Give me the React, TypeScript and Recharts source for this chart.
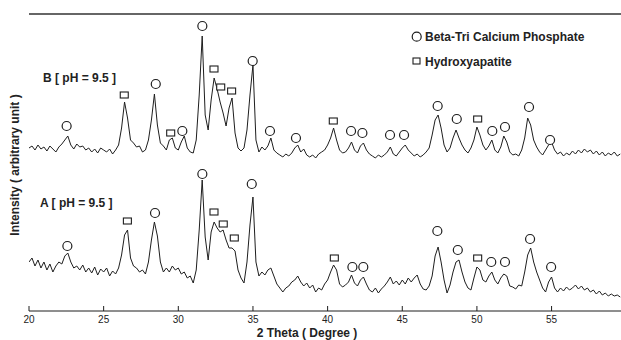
import React from "react";
import { ComposedChart, Line, Scatter, XAxis, YAxis, ReferenceLine } from "recharts";

// 2-theta grid (degrees)
const twoTheta = [
  20.0, 20.2, 20.4, 20.6, 20.8, 21.0, 21.2, 21.4, 21.6, 21.8,
  22.0, 22.2, 22.4, 22.6, 22.8, 23.0, 23.2, 23.4, 23.6, 23.8,
  24.0, 24.2, 24.4, 24.6, 24.8, 25.0, 25.2, 25.4, 25.6, 25.8,
  26.0, 26.2, 26.4, 26.6, 26.8, 27.0, 27.2, 27.4, 27.6, 27.8,
  28.0, 28.2, 28.4, 28.6, 28.8, 29.0, 29.2, 29.4, 29.6, 29.8,
  30.0, 30.2, 30.4, 30.6, 30.8, 31.0, 31.2, 31.4, 31.6, 31.8,
  32.0, 32.2, 32.4, 32.6, 32.8, 33.0, 33.2, 33.4, 33.6, 33.8,
  34.0, 34.2, 34.4, 34.6, 34.8, 35.0, 35.2, 35.4, 35.6, 35.8,
  36.0, 36.2, 36.4, 36.6, 36.8, 37.0, 37.2, 37.4, 37.6, 37.8,
  38.0, 38.2, 38.4, 38.6, 38.8, 39.0, 39.2, 39.4, 39.6, 39.8,
  40.0, 40.2, 40.4, 40.6, 40.8, 41.0, 41.2, 41.4, 41.6, 41.8,
  42.0, 42.2, 42.4, 42.6, 42.8, 43.0, 43.2, 43.4, 43.6, 43.8,
  44.0, 44.2, 44.4, 44.6, 44.8, 45.0, 45.2, 45.4, 45.6, 45.8,
  46.0, 46.2, 46.4, 46.6, 46.8, 47.0, 47.2, 47.4, 47.6, 47.8,
  48.0, 48.2, 48.4, 48.6, 48.8, 49.0, 49.2, 49.4, 49.6, 49.8,
  50.0, 50.2, 50.4, 50.6, 50.8, 51.0, 51.2, 51.4, 51.6, 51.8,
  52.0, 52.2, 52.4, 52.6, 52.8, 53.0, 53.2, 53.4, 53.6, 53.8,
  54.0, 54.2, 54.4, 54.6, 54.8, 55.0, 55.2, 55.4, 55.6, 55.8,
  56.0, 56.2, 56.4, 56.6, 56.8, 57.0, 57.2, 57.4, 57.6, 57.8,
  58.0, 58.2, 58.4, 58.6, 58.8, 59.0, 59.2, 59.4, 59.6,
];

// Sample B [pH = 9.5] intensity (arbitrary units)
const intensityB = [
  163, 165, 161, 166, 162, 164, 160, 165, 162, 159,
  164, 167, 171, 175, 166, 162, 167, 164, 165, 161,
  163, 159, 162, 158, 163, 161, 159, 162, 157, 161,
  166, 183, 209, 193, 171, 168, 164, 165, 159, 161,
  171, 191, 217, 186, 168, 165, 161, 171, 173, 163,
  161, 169, 175, 163, 159, 158, 171, 216, 275, 196,
  181, 211, 233, 222, 209, 198, 185, 203, 213, 178,
  163, 160, 163, 181, 216, 246, 171, 159, 164, 161,
  165, 173, 161, 158, 156, 154, 157, 155, 158, 163,
  166, 159, 162, 156, 154, 156, 153, 157, 159, 161,
  166, 173, 183, 171, 161, 158, 159, 163, 169, 161,
  158, 165, 168, 161, 157, 155, 153, 156, 154, 156,
  159, 164, 157, 155, 159, 163, 166, 161, 158, 155,
  157, 154, 156, 159, 163, 176, 191, 196, 183, 166,
  159, 163, 173, 181, 173, 166, 161, 158, 163, 171,
  184, 176, 166, 161, 165, 171, 161, 158, 164, 175,
  169, 159, 156, 157, 155, 161, 173, 193, 186, 171,
  164, 159, 156, 161, 166, 169, 161, 157, 159, 155,
  158, 156, 160, 157, 161, 158, 162, 159, 161, 157,
  160, 156, 159, 155, 158, 156, 159, 155, 157,
];

// Sample A [pH = 9.5] intensity (arbitrary units)
const intensityA = [
  49, 53, 45, 51, 43, 49, 41, 47, 39, 45,
  49, 47, 55, 58, 49, 43, 45, 41, 46, 39,
  43, 38, 44, 36, 42, 39, 43, 35, 40, 37,
  43, 56, 76, 81, 53, 45, 43, 39, 41, 37,
  49, 71, 89, 75, 49, 39, 43, 39, 45, 41,
  43, 37, 39, 33, 35, 28, 41, 81, 131, 74,
  51, 79, 89, 83, 79, 81, 71, 63, 63, 60,
  41, 33, 28, 49, 86, 114, 49, 35, 39, 36,
  41, 43, 35, 27, 23, 19, 23, 25, 29, 31,
  35, 29, 25, 28, 23, 26, 19, 23, 21, 27,
  31, 39, 46, 41, 27, 24, 26, 29, 36, 28,
  25, 31, 34, 27, 21, 19, 23, 18, 22, 25,
  29, 34, 27, 30, 26, 31, 27, 33, 29, 33,
  36, 27, 22, 21, 25, 35, 55, 64, 49, 31,
  18, 26, 39, 49, 51, 39, 29, 23, 21, 33,
  44, 41, 31, 29, 35, 39, 31, 27, 33, 37,
  35, 25, 24, 22, 26, 25, 39, 56, 63, 49,
  39, 31, 23, 19, 29, 34, 23, 19, 23, 20,
  24, 21, 23, 26, 22, 25, 21, 23, 19, 21,
  17, 20, 16, 18, 15, 17, 15, 16, 14,
];

// Peak markers: Beta-TCP (circles) and Hydroxyapatite (squares)
const tcpThetaB = [22.52, 28.49, 30.27, 31.61, 34.98, 36.14, 37.88, 41.57, 42.33, 44.18, 45.12, 47.37, 48.65, 51.03, 51.88, 53.49, 54.9];
const tcpMarkB = [185, 227, 180, 285, 250, 180, 173, 180, 178, 176, 176, 205, 192, 180, 184, 204, 171];
const hapThetaB = [26.38, 29.49, 32.39, 32.84, 33.57, 40.38, 50.05];
const hapMarkB = [216, 178, 242, 224, 220, 190, 192];
const tcpThetaA = [22.57, 28.44, 31.61, 34.92, 41.66, 42.39, 47.35, 48.72, 50.96, 51.88, 53.56, 54.97];
const tcpMarkA = [65, 98, 137, 127, 44, 44, 80, 61, 49, 49, 72, 44];
const hapThetaA = [26.59, 32.39, 33.01, 33.75, 40.45, 50.05];
const hapMarkA = [90, 99, 87, 73, 53, 53];

const xTicks = [20, 25, 30, 35, 40, 45, 50, 55];

const zip = (xs: number[], ys: number[]) => xs.map((t, i) => ({ t, I: ys[i] }));
const dataB = zip(twoTheta, intensityB);
const dataA = zip(twoTheta, intensityA);
const tcpB = zip(tcpThetaB, tcpMarkB);
const hapB = zip(hapThetaB, hapMarkB);
const tcpA = zip(tcpThetaA, tcpMarkA);
const hapA = zip(hapThetaA, hapMarkA);

const FONT = "'Liberation Sans', Arial, sans-serif";
const INK = "#1e1e1e";

const CircleShape = (p: any) => (
  <circle cx={p.cx} cy={p.cy} r={4.5} fill="#fff" stroke={INK} strokeWidth={1.2} />
);
const SquareShape = (p: any) => (
  <rect x={p.cx - 4} y={p.cy - 3} width={8} height={6} fill="#fff" stroke={INK} strokeWidth={1.1} />
);

const Tick = (p: any) => {
  const { x, y, payload } = p;
  return (
    <g>
      <line x1={x} x2={x} y1={y - 5} y2={y - 10} stroke={INK} strokeWidth={1} />
      <text x={x} y={y} dy={7} textAnchor="middle" fontSize={10} fontFamily={FONT} fill="#222">
        {payload.value}
      </text>
    </g>
  );
};

export default function App() {
  return (
    <div style={{ position: "absolute", left: 0, top: 0, width: 621, height: 340, background: "#fff" }}>
      <ComposedChart width={621} height={340} margin={{ top: 14, right: 0, bottom: 0, left: 29 }}>
        <XAxis
          dataKey="t"
          type="number"
          domain={[20, 59.65]}
          allowDataOverflow
          ticks={xTicks}
          tick={<Tick />}
          tickSize={0}
          tickMargin={5}
          height={29}
          axisLine={{ stroke: INK, strokeWidth: 1 }}
          tickLine={false}
        />
        <YAxis
          dataKey="I"
          type="number"
          domain={[0, 297]}
          allowDataOverflow
          width={0}
          tick={false}
          tickLine={false}
          axisLine={{ stroke: "#333", strokeWidth: 1 }}
        />
        <ReferenceLine y={297} stroke="#333" strokeWidth={1.4} />
        <Line data={dataB} dataKey="I" type="linear" stroke={INK} strokeWidth={1} dot={false} isAnimationActive={false} />
        <Line data={dataA} dataKey="I" type="linear" stroke={INK} strokeWidth={1} dot={false} isAnimationActive={false} />
        <Scatter data={tcpB} dataKey="I" shape={CircleShape} isAnimationActive={false} />
        <Scatter data={hapB} dataKey="I" shape={SquareShape} isAnimationActive={false} />
        <Scatter data={tcpA} dataKey="I" shape={CircleShape} isAnimationActive={false} />
        <Scatter data={hapA} dataKey="I" shape={SquareShape} isAnimationActive={false} />
      </ComposedChart>
      <svg
        width={621}
        height={340}
        style={{ position: "absolute", left: 0, top: 0, pointerEvents: "none" }}
        fontFamily={FONT}
        fontWeight="bold"
        fill="#222"
      >
        <text x={43} y={82} fontSize={12}>B [ pH = 9.5 ]</text>
        <text x={40} y={207} fontSize={12}>A [ pH = 9.5 ]</text>
        <circle cx={416.7} cy={36.7} r={4.5} fill="#fff" stroke={INK} strokeWidth={1.2} />
        <text x={425} y={41} fontSize={12}>Beta-Tri Calcium Phosphate</text>
        <rect x={413} y={58} width={7} height={6} fill="#fff" stroke={INK} strokeWidth={1.1} />
        <text x={425} y={65.5} fontSize={12}>Hydroxyapatite</text>
        <text x={307} y={337} fontSize={12} textAnchor="middle">2 Theta ( Degree )</text>
        <text transform="translate(19,165) rotate(-90)" fontSize={12} textAnchor="middle">
          Intensity ( arbitrary unit )
        </text>
      </svg>
    </div>
  );
}
